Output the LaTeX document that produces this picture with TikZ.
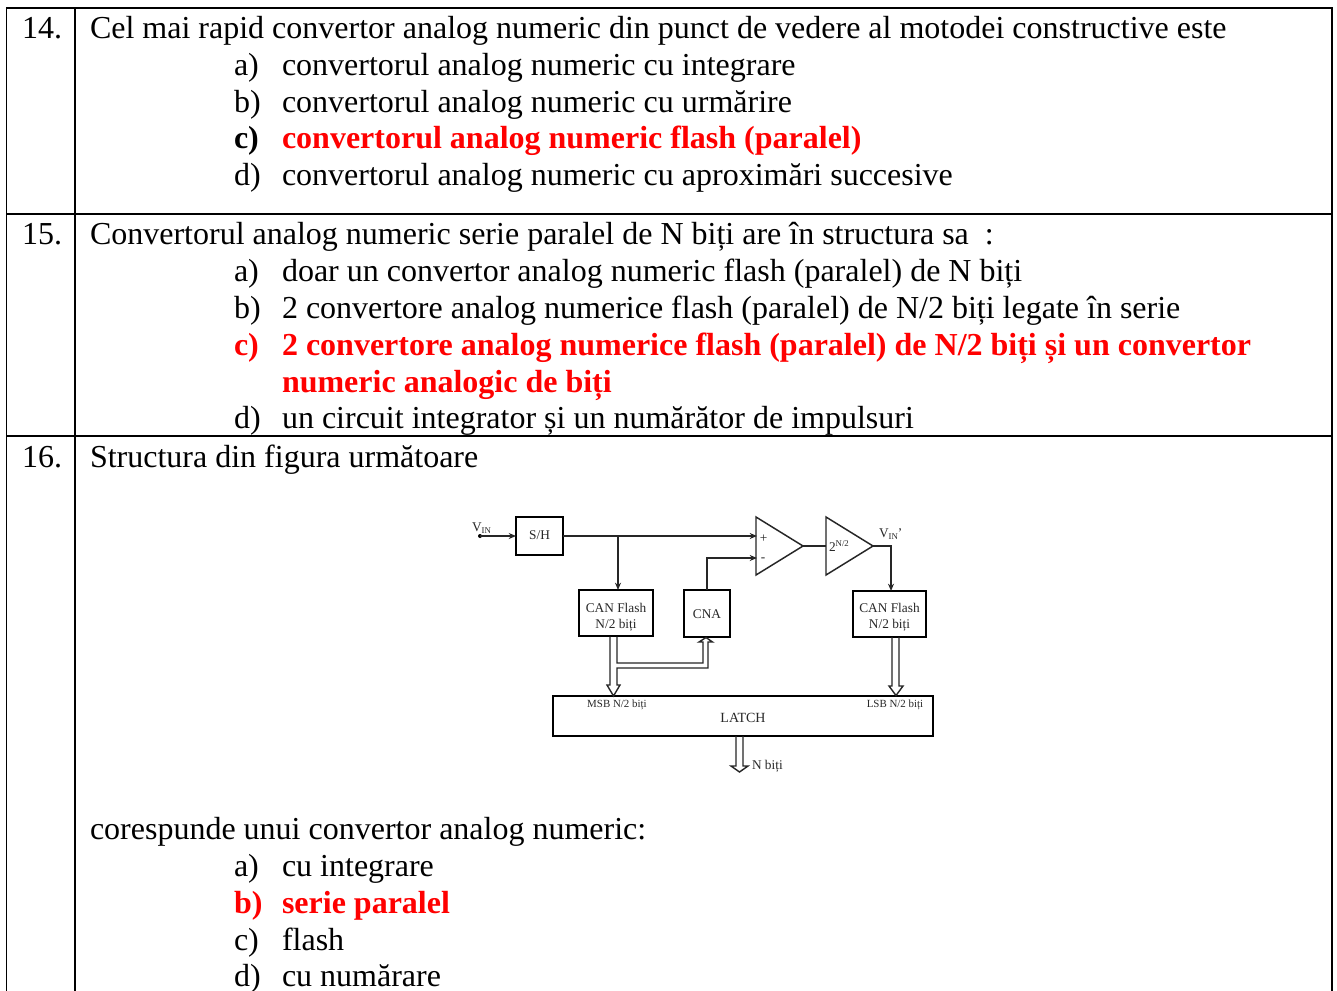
\documentclass[tikz,border=0pt]{standalone}
\usepackage{fontspec}
\setmainfont{Liberation Serif}
\usetikzlibrary{arrows.meta}
\definecolor{ansred}{RGB}{255,0,0}
\definecolor{ink}{RGB}{40,40,40}
\tikzset{
  txt/.style={anchor=base west,inner sep=0pt,outer sep=0pt,font=\fontsize{24pt}{26pt}\selectfont,text=black},
  ans/.style={txt,font=\fontsize{24pt}{26pt}\selectfont\bfseries,text=ansred},
  grid/.style={line width=1.35pt,black},
  blockbox/.style={draw=black,line width=1.5pt,inner sep=0pt,outer sep=0pt},
  blocktext/.style={inner sep=0pt,outer sep=0pt,align=center,text=ink,font=\fontsize{10pt}{12pt}\selectfont},
  tiny/.style={inner sep=0pt,outer sep=0pt,text=ink,font=\fontsize{8.2pt}{9pt}\selectfont},
  wire/.style={line width=1.1pt,black!85},
  sig/.style={wire,-{Stealth[length=5.5pt,width=4.5pt]}},
  bus/.style={line width=1.05pt,black!85},
}
\begin{document}
\begin{tikzpicture}[x=0.75pt,y=-0.75pt]
\useasboundingbox (0,0) rectangle (1337,991);
\fill[white] (0,0) rectangle (1337,991);
% table
\coordinate (tl) at (6.5,8); \coordinate (tr) at (1332,8);
\coordinate (bl) at (6.5,995); \coordinate (br) at (1332,995);
\coordinate (ml) at (75,8); \coordinate (mb) at (75,995);
\coordinate (al) at (6.5,214); \coordinate (ar) at (1332,214);
\coordinate (cl) at (6.5,436); \coordinate (cr) at (1332,436);
\draw[grid] (bl) -- (tl) -- (tr) -- (br);
\draw[grid] (ml) -- (mb);
\draw[grid] (al) -- (ar);
\draw[grid] (cl) -- (cr);
% question 14
\node[txt] (n14) at (22,38.5) {14.};
\node[txt] (q14) at (90,38.5) {Cel mai rapid convertor analog numeric din punct de vedere al motodei constructive este};
\node[txt] (a14l) at (234,75.5) {a)};
\node[txt] (a14) at (282,75.5) {convertorul analog numeric cu integrare};
\node[txt] (b14l) at (234,112.5) {b)};
\node[txt] (b14) at (282,112.5) {convertorul analog numeric cu urmărire};
\node[ans,text=black] (c14l) at (234,148.5) {c)};
\node[ans] (c14) at (282,148.5) {convertorul analog numeric flash (paralel)};
\node[txt] (d14l) at (234,185.5) {d)};
\node[txt] (d14) at (282,185.5) {convertorul analog numeric cu aproximări succesive};
% question 15
\node[txt] (n15) at (22,244) {15.};
\node[txt] (q15) at (90,244) {Convertorul analog numeric serie paralel de N biți are în structura sa\ \ :};
\node[txt] (a15l) at (234,281) {a)};
\node[txt] (a15) at (282,281) {doar un convertor analog numeric flash (paralel) de N biți};
\node[txt] (b15l) at (234,318) {b)};
\node[txt] (b15) at (282,318) {2 convertore analog numerice flash (paralel) de N/2 biți legate în serie};
\node[ans] (c15l) at (234,355) {c)};
\node[ans] (c15) at (282,355) {2 convertore analog numerice flash (paralel) de N/2 biți și un convertor};
\node[ans] (c15b) at (282,392) {numeric analogic de biți};
\node[txt] (d15l) at (234,428) {d)};
\node[txt] (d15) at (282,428) {un circuit integrator și un numărător de impulsuri};
% question 16
\node[txt] (n16) at (22,467) {16.};
\node[txt] (q16) at (90,467) {Structura din figura următoare};
\node[txt] (r16) at (90,839.5) {corespunde unui convertor analog numeric:};
\node[txt] (a16l) at (234,876.5) {a)};
\node[txt] (a16) at (282,876.5) {cu integrare};
\node[ans] (b16l) at (234,913.5) {b)};
\node[ans] (b16) at (282,913.5) {serie paralel};
\node[txt] (c16l) at (234,950.5) {c)};
\node[txt] (c16) at (282,950.5) {flash};
\node[txt] (d16l) at (234,986.5) {d)};
\node[txt] (d16) at (282,986.5) {cu numărare};
% blocks
\node[blockbox,minimum width=35.2pt,minimum height=28.5pt] (sh) at (539.5,536) {};
\node[blocktext] (sht) at (539.5,535) {S/H};
\node[blockbox,minimum width=55.5pt,minimum height=34.5pt] (can1) at (616,613) {};
\node[blocktext] (can1t) at (616,617.5) {CAN Flash\\N/2 biți};
\node[blockbox,minimum width=34.5pt,minimum height=35pt] (cna) at (707,613.5) {};
\node[blocktext] (cnat) at (707,614) {CNA};
\node[blockbox,minimum width=55pt,minimum height=34.5pt] (can2) at (889.5,614) {};
\node[blocktext] (can2t) at (889.5,617.5) {CAN Flash\\N/2 biți};
\node[blockbox,minimum width=285.5pt,minimum height=30pt] (latch) at (743,716) {};
\node[blocktext,font=\fontsize{10.5pt}{12pt}\selectfont] (lt) at (743,718) {LATCH};
\node[tiny] (msb) at (617,704.5) {MSB N/2 biți};
\node[tiny] (lsb) at (895,704.5) {LSB N/2 biți};
% amplifiers
\coordinate (a1t) at (756,517); \coordinate (a1b) at (756,575); \coordinate (a1o) at (803,546);
\coordinate (a2t) at (826,517); \coordinate (a2b) at (826,575); \coordinate (a2o) at (873,546);
\draw[wire] (a1t) -- (a1o) -- (a1b) -- cycle;
\draw[wire] (a2t) -- (a2o) -- (a2b) -- cycle;
\node[blocktext,font=\fontsize{10pt}{10pt}\selectfont] (plus) at (763.5,539) {+};
\node[blocktext,font=\fontsize{10pt}{10pt}\selectfont] (minus) at (763,560) {-};
\node[blocktext,anchor=west] (gain) at (829,546) {2\raisebox{3.8pt}{\fontsize{6.6pt}{7pt}\selectfont N/2}};
% wires
\node[blocktext,anchor=base west] (vin) at (472,531) {V\raisebox{-1.5pt}{\fontsize{6.6pt}{7pt}\selectfont IN}};
\node[blocktext,anchor=base west] (vinp) at (879,537) {V\raisebox{-1.5pt}{\fontsize{6.6pt}{7pt}\selectfont IN}’};
\coordinate (vind) at (480,536);
\fill[black] (vind) circle[radius=1.5pt];
\draw[sig] (vind) -- (sh.west);
\coordinate (plusin) at (757,536);
\coordinate (minusin) at (757,558);
\coordinate (tap) at (618,536);
\coordinate (v2) at (891,591);
\draw[sig] (sh.east) -- (plusin);
\draw[sig] (tap) -- (tap |- can1.north);
\draw[sig,line width=1.4pt] (cna.north) |- (minusin);
\draw[wire,line width=1.6pt] (a1o) -- (a2t |- a1o);
\draw[sig] (a2o) -| (v2);
% MSB bus
\draw[bus] (610,636.5) -- (610,685) -- (607,685) -- (613.5,696) -- (620,685) -- (617,685) -- (617,668) -- (708,668) -- (708,642) -- (712.5,642) -- (706,637.5) -- (699,642) -- (703,642) -- (703,663) -- (617,663) -- (617,636.5);
% LSB bus
\draw[bus] (892,637) -- (892,686) -- (889,686) -- (896,695.5) -- (903,686) -- (899,686) -- (899,637);
% output bus
\draw[bus] (736,736) -- (736,766) -- (731,766) -- (739.5,772) -- (748,766) -- (743,766) -- (743,736);
\node[blocktext,anchor=west] (nb) at (752,766) {N biți};
\end{tikzpicture}
\end{document}
